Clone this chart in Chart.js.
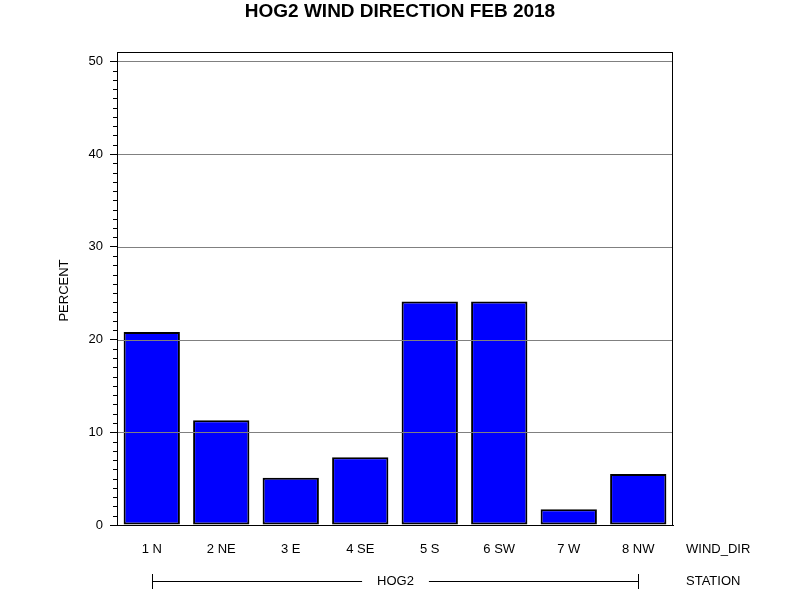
<!DOCTYPE html>
<html>
<head>
<meta charset="utf-8">
<script src="https://cdn.jsdelivr.net/npm/chart.js@4/dist/chart.umd.min.js"></script>
<style>
  html, body { margin: 0; padding: 0; background: #fff; }
  #wrap { width: 800px; height: 600px; }
</style>
</head>
<body>
<div id="wrap"><canvas id="chart" width="800" height="600"></canvas></div>
<script>
const chartTitle = "HOG2 WIND DIRECTION FEB 2018"
const windDirs = ["1 N", "2 NE", "3 E", "4 SE", "5 S", "6 SW", "7 W", "8 NW"]
const percent = [20.8, 11.3, 5.1, 7.3, 24.1, 24.1, 1.7, 5.5]
const station = "HOG2"
const yMajorTicks = [0, 10, 20, 30, 40, 50]
const yMinorStep = 1
const yMax = 51

const FONT = "'Liberation Sans', Arial, sans-serif"
const SMALL = 13

// extras SAS-style: title, frame, grid over bars, minor ticks, group row
const sasExtras = {
  id: "sasExtras",
  afterDatasetsDraw(chart) {
    const ctx = chart.ctx
    const area = chart.chartArea
    const y = chart.scales.y
    const x = chart.scales.x
    ctx.save()

    // grid lines sit on top of the bars
    ctx.strokeStyle = "#808080"
    ctx.lineWidth = 1
    yMajorTicks.forEach((v) => {
      if (v === 0) return
      const py = Math.round(y.getPixelForValue(v)) + 0.5
      ctx.beginPath()
      ctx.moveTo(area.left, py)
      ctx.lineTo(area.right, py)
      ctx.stroke()
    })

    // frame
    ctx.strokeStyle = "#000"
    ctx.strokeRect(area.left + 0.5, area.top + 0.5, area.right - area.left - 1, area.bottom - area.top)

    // minor ticks
    for (let v = 0; v <= yMajorTicks[yMajorTicks.length - 1]; v += yMinorStep) {
      if (yMajorTicks.includes(v)) continue
      const py = Math.round(y.getPixelForValue(v)) + 0.5
      ctx.beginPath()
      ctx.moveTo(area.left - 4, py)
      ctx.lineTo(area.left, py)
      ctx.stroke()
    }

    // title
    ctx.fillStyle = "#000"
    ctx.font = "bold 19px " + FONT
    ctx.textAlign = "center"
    ctx.textBaseline = "middle"
    ctx.fillText(chartTitle, 400, 12)

    // y axis label
    ctx.font = SMALL + "px " + FONT
    ctx.save()
    ctx.translate(64, (area.top + area.bottom) / 2 + 2)
    ctx.rotate(-Math.PI / 2)
    ctx.fillText("PERCENT", 0, 0)
    ctx.restore()

    // variable names on the right
    ctx.textAlign = "left"
    ctx.fillText("WIND_DIR", area.right + 13, 549)
    ctx.fillText("STATION", area.right + 13, 581)

    // station bracket
    const x0 = Math.round(x.getPixelForValue(0)) + 0.5
    const x1 = Math.round(x.getPixelForValue(windDirs.length - 1)) + 0.5
    const mid = (x0 + x1) / 2
    const rowY = 581.5
    ctx.textAlign = "center"
    ctx.fillText(station, mid, 581)
    const half = ctx.measureText(station).width / 2 + 15
    ctx.beginPath()
    ctx.moveTo(x0, 574); ctx.lineTo(x0, 589)
    ctx.moveTo(x1, 574); ctx.lineTo(x1, 589)
    ctx.moveTo(x0, rowY); ctx.lineTo(mid - half, rowY)
    ctx.moveTo(mid + half, rowY); ctx.lineTo(x1, rowY)
    ctx.stroke()

    ctx.restore()
  },
}

new Chart(document.getElementById("chart"), {
  type: "bar",
  data: {
    labels: windDirs,
    datasets: [
      {
        data: percent,
        backgroundColor: "#0000FF",
        borderColor: "#000",
        borderWidth: 2,
        borderSkipped: false,
        categoryPercentage: 1,
        barPercentage: 0.81,
      },
    ],
  },
  options: {
    responsive: false,
    animation: false,
    devicePixelRatio: 1,
    layout: { padding: { left: 0, top: 52, right: 127, bottom: 0 } },
    plugins: {
      legend: { display: false },
      tooltip: { enabled: false },
    },
    scales: {
      x: {
        grid: { display: false, drawTicks: false },
        border: { display: true, color: "#000" },
        ticks: {
          color: "#000",
          padding: 17,
          maxRotation: 0,
          font: { family: FONT, size: SMALL },
        },
        afterFit(scale) {
          scale.height = 75
        },
      },
      y: {
        min: 0,
        max: yMax,
        grid: { drawOnChartArea: false, drawTicks: true, tickLength: 7, tickColor: "#000" },
        border: { display: true, color: "#000" },
        ticks: {
          stepSize: 10,
          color: "#000",
          padding: 7,
          font: { family: FONT, size: SMALL },
        },
        afterBuildTicks(scale) {
          scale.ticks = yMajorTicks.map((v) => ({ value: v }))
        },
        afterFit(scale) {
          scale.width = 117
        },
      },
    },
  },
  plugins: [sasExtras],
})
</script>
</body>
</html>
